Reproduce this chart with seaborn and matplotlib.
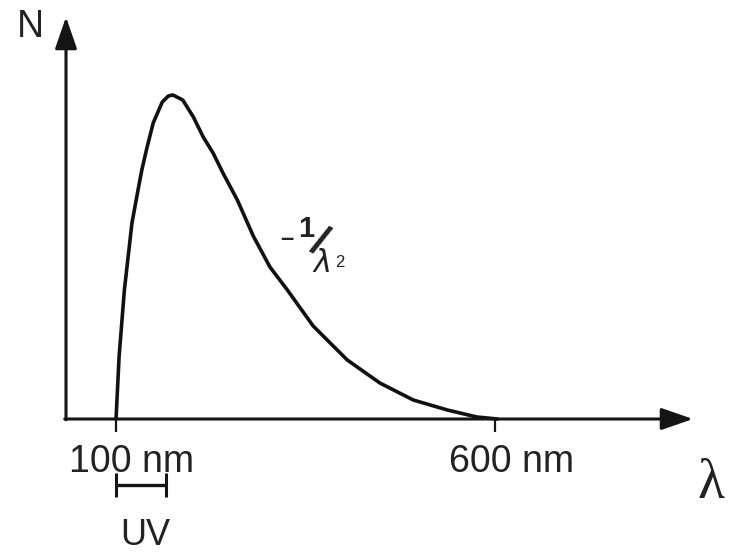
import numpy as np
import pandas as pd
import seaborn as sns
import matplotlib.pyplot as plt
from matplotlib.transforms import ScaledTranslation

# wavelength in nm, N in arbitrary units
wavelength = [100, 104, 111, 121, 129, 134, 141, 149, 161, 169, 175, 188, 202, 215,
              228, 241, 260, 281, 303, 326, 343, 360, 405, 448, 492, 537, 576, 603]
intensity = [0, 62, 129, 196, 229, 249, 272, 296, 317, 323, 324, 319, 302, 282,
             266, 246, 219, 183, 152, 129, 111, 93, 59, 36, 19, 9, 2, 0]
tick_pos = [100, 600]
tick_labels = ['100 nm', '600 nm']
uv_range = [100, 166]

sns.set_style('white')
plt.rcParams['font.family'] = ['Liberation Sans', 'DejaVu Sans']

W, H = 733, 554
fig = plt.figure(figsize=(W / 100, H / 100), dpi=100)
ax = fig.add_axes([66 / W, 1 - 419 / H, (693 - 66) / W, (419 - 17) / H])

df = pd.DataFrame({'wavelength': wavelength, 'N': intensity})
sns.lineplot(data=df, x='wavelength', y='N', ax=ax, color='#111111', lw=2.6,
             sort=False, clip_on=False)
ax.lines[0].set_solid_joinstyle('round')

ax.set_xlim(34, 861)
ax.set_ylim(0, 402)
for s in ax.spines.values():
    s.set_visible(False)
ax.set_yticks([])
ax.set_xlabel('')
ax.set_ylabel('')

# axes with arrow heads
arr = dict(arrowstyle='-|>,head_length=1.3,head_width=0.45', lw=2.2,
           color='#151515', mutation_scale=15, shrinkA=0, shrinkB=0)
ax.annotate('', xy=(1, 0), xytext=(-0.002, 0), xycoords='axes fraction', arrowprops=arr)
ax.annotate('', xy=(0, 1), xytext=(0, -0.002), xycoords='axes fraction', arrowprops=arr)

ax.set_xticks(tick_pos, tick_labels)
ax.tick_params(axis='x', length=9, width=1.6, color='#151515', pad=9,
               labelsize=27, labelcolor='#222222', bottom=True)
for lbl in ax.get_xticklabels():
    lbl.set_transform(lbl.get_transform() + ScaledTranslation(0.16, 0, fig.dpi_scale_trans))

# UV range marker
uv_mid = (uv_range[0] + uv_range[1]) / 2
uv_half = (uv_range[1] - uv_range[0]) / 2
ax.errorbar([uv_mid], [-66], xerr=[uv_half], fmt='none', ecolor='#151515',
            elinewidth=2.4, capsize=8.5, capthick=2.2, clip_on=False)


def px(x, y):
    return x / W, 1 - y / H


fig.text(*px(145, 553), 'UV', ha='center', va='bottom', fontsize=26, color='#222222')
fig.text(*px(17, 37), 'N', ha='left', va='baseline', fontsize=27, color='#222222')
fig.text(*px(711, 498), 'λ', ha='center', va='baseline', fontsize=40,
         family=['Liberation Serif', 'DejaVu Serif'], color='#222222')

# ~1/λ² annotation
fig.text(*px(287, 238), '–', ha='center', va='center', fontsize=17,
         fontweight='bold', color='#222222')
fig.text(*px(306, 237), '1', ha='center', va='baseline', fontsize=21,
         fontweight='bold', color='#222222')
fig.text(*px(318, 243), '/', ha='center', va='center', fontsize=30, rotation=-28,
         fontweight='bold', color='#222222')
fig.text(*px(322, 272), 'λ', ha='center', va='baseline', fontsize=22,
         family=['DejaVu Sans'], fontstyle='italic', color='#222222')
fig.text(*px(340, 267), '2', ha='center', va='baseline', fontsize=12, color='#222222')

fig.savefig('out.png', dpi=100)
